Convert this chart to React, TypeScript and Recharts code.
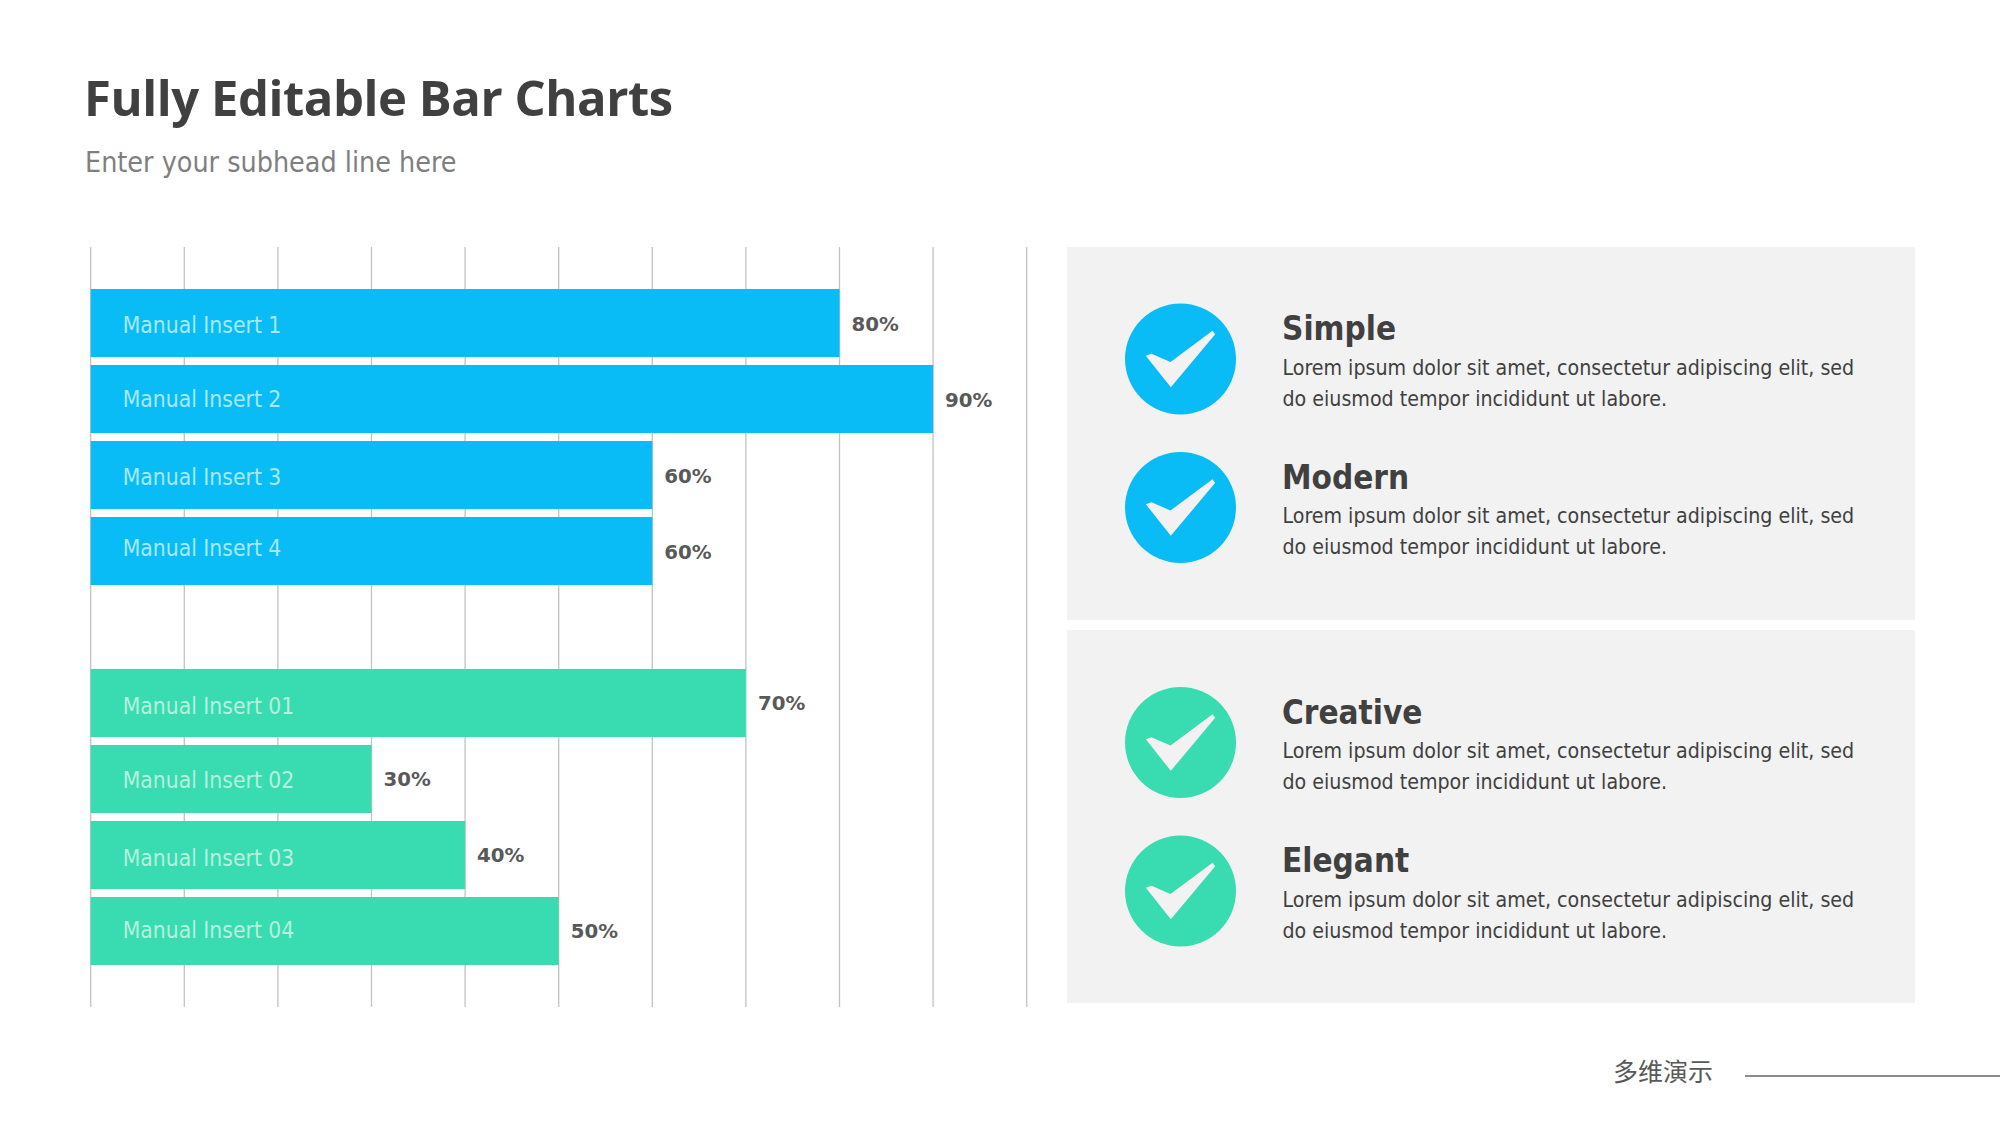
import { Bar, BarChart, CartesianGrid, LabelList, XAxis, YAxis } from "recharts";

const blueNames = ["Manual Insert 1", "Manual Insert 2", "Manual Insert 3", "Manual Insert 4"];
const blueValues = [80, 90, 60, 60];
const greenNames = ["Manual Insert 01", "Manual Insert 02", "Manual Insert 03", "Manual Insert 04"];
const greenValues = [70, 30, 40, 50];
const gridTicks = [0, 10, 20, 30, 40, 50, 60, 70, 80, 90, 100];

const topItems = ["Simple", "Modern"];
const bottomItems = ["Creative", "Elegant"];
const lorem1 = "Lorem ipsum dolor sit amet, consectetur adipiscing elit, sed";
const lorem2 = "do eiusmod tempor incididunt ut labore.";

const BLUE = "#0abcf5";
const GREEN = "#38dcb0";
const FONT = "'DejaVu Sans', sans-serif";

// the names sit slightly off-centre in the bars of the original
const nameNudge: Record<string, number> = {
  "Manual Insert 1": 2,
  "Manual Insert 3": 2,
  "Manual Insert 4": -3,
  "Manual Insert 01": 3,
  "Manual Insert 02": 1,
  "Manual Insert 03": 3,
  "Manual Insert 04": -1,
};

// blank row between the two groups
const rows = [
  ...blueNames.map((n, i) => ({ key: n, blueName: n, blue: blueValues[i] })),
  { key: "gap" },
  ...greenNames.map((n, i) => ({ key: n, greenName: n, green: greenValues[i] })),
];

const pct = (v: number) => `${v}%`;

function nameLabel(fill: string) {
  return (p: any) => {
    if (p.value == null) return null;
    return (
      <text
        x={p.x + 32}
        y={p.y + p.height / 2 + 8 + (nameNudge[p.value] ?? 0)}
        fontSize={22.7}
        fontFamily={FONT}
        fill={fill}
        style={{ fontStretch: "condensed" }}
      >
        {p.value}
      </text>
    );
  };
}

function CheckRow({ title, y, color }: { title: string; y: number; color: string }) {
  return (
    <g>
      <circle cx={1180.5} cy={y} r={55.5} fill={color} />
      <polygon
        transform={`translate(1180.5 ${y})`}
        points="-34.7,-3.3 -29,-5.3 -10,3 32,-28.3 34.7,-24.7 -9.7,28.3"
        fill="#f2f2f2"
      />
      <text x={1282} y={y - 19} fontSize={33} fontWeight={700} fill="#404040" style={{ fontStretch: "condensed" }}>
        {title}
      </text>
      <text x={1282.5} y={y + 15.5} fontSize={21.2} fill="#404040" style={{ fontStretch: "condensed" }}>
        {lorem1}
      </text>
      <text x={1282.5} y={y + 46.5} fontSize={21.2} fill="#404040" style={{ fontStretch: "condensed" }}>
        {lorem2}
      </text>
    </g>
  );
}

export default function App() {
  return (
    <div style={{ position: "absolute", left: 0, top: 0, width: 2000, height: 1125, background: "#fff", overflow: "hidden", fontFamily: FONT }}>
      <svg width={2000} height={1125} style={{ position: "absolute", left: 0, top: 0 }} fontFamily={FONT}>
        <text x={84} y={115.5} fontSize={49} letterSpacing={-0.45} fontWeight={700} fill="#404040" fontFamily="'Open Sans', sans-serif">
          Fully Editable Bar Charts
        </text>
        <text x={85} y={171.5} fontSize={28.4} fill="#7f7f7f" style={{ fontStretch: "condensed" }}>
          Enter your subhead line here
        </text>

        <rect x={1067} y={247} width={848} height={373} fill="#f2f2f2" />
        <rect x={1067} y={630} width={848} height={373} fill="#f2f2f2" />
        <CheckRow title={topItems[0]} y={359} color={BLUE} />
        <CheckRow title={topItems[1]} y={507.5} color={BLUE} />
        <CheckRow title={bottomItems[0]} y={742.5} color={GREEN} />
        <CheckRow title={bottomItems[1]} y={891} color={GREEN} />

        <text x={1613} y={1081} fontSize={25} fill="#595959" fontFamily="'Noto Sans CJK SC', sans-serif">
          多维演示
        </text>
        <line x1={1745} y1={1076} x2={2000} y2={1076} stroke="#666666" strokeWidth={1.5} />
      </svg>

      <div style={{ position: "absolute", left: 0, top: 0 }}>
        <BarChart
          width={1100}
          height={1125}
          data={rows}
          layout="vertical"
          margin={{ top: 247, right: 73.3, bottom: 118, left: 90.7 }}
          barSize={68}
        >
          <CartesianGrid horizontal={false} stroke="#c2c2c2" strokeWidth={1.3} />
          <XAxis type="number" domain={[0, 100]} ticks={gridTicks} hide />
          <YAxis type="category" dataKey="key" hide padding={{ top: 38, bottom: 38 }} />
          <Bar dataKey="blue" stackId="a" fill={BLUE} isAnimationActive={false}>
            <LabelList dataKey="blueName" content={nameLabel("#a6e9fc")} />
            <LabelList dataKey="blue" position="right" offset={12} dy={1} formatter={pct} fill="#595959" fontSize={19.8} fontWeight={700} fontFamily={FONT} />
          </Bar>
          <Bar dataKey="green" stackId="a" fill={GREEN} isAnimationActive={false}>
            <LabelList dataKey="greenName" content={nameLabel("#b4f2df")} />
            <LabelList dataKey="green" position="right" offset={12} formatter={pct} fill="#595959" fontSize={19.8} fontWeight={700} fontFamily={FONT} />
          </Bar>
        </BarChart>
      </div>
    </div>
  );
}
